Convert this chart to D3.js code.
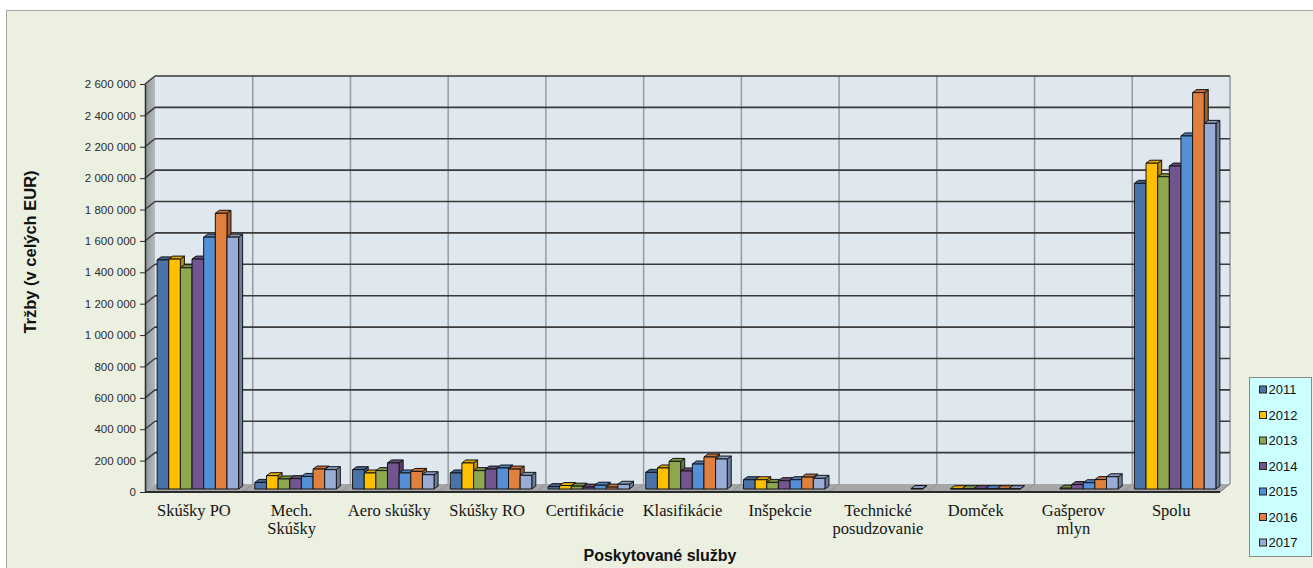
<!DOCTYPE html>
<html>
<head>
<meta charset="utf-8">
<script src="https://cdn.jsdelivr.net/npm/d3@7"></script>
<style>
  body { margin: 0; background: #fff; }
  svg { display: block; }
</style>
</head>
<body>
<div id="chart"></div>
<script>
// categories and values (EUR)
const categories = ['Skúšky PO', 'Mech.|Skúšky', 'Aero skúšky', 'Skúšky RO', 'Certifikácie',
  'Klasifikácie', 'Inšpekcie', 'Technické|posudzovanie', 'Domček', 'Gašperov|mlyn', 'Spolu'];
const years = ['2011', '2012', '2013', '2014', '2015', '2016', '2017'];
const colors = ['#4a74a8', '#ffc000', '#8ea84f', '#72558f', '#5590d6', '#e0803e', '#98acd6'];

const v2011 = [1460000, 42000, 123000, 102000, 15000, 106000, 59000, 0, 0, 0, 1948000];
const v2012 = [1465000, 85000, 102000, 166000, 22000, 134000, 59000, 0, 2000, 0, 2076000];
const v2013 = [1410000, 64000, 117000, 117000, 18000, 176000, 42000, 0, 2000, 5000, 1990000];
const v2014 = [1465000, 66000, 166000, 127000, 12000, 115000, 53000, 0, 2000, 28000, 2058000];
const v2015 = [1605000, 80000, 102000, 134000, 24000, 159000, 59000, 0, 2000, 40000, 2250000];
const v2016 = [1757000, 127000, 112000, 127000, 12000, 204000, 76000, 0, 2000, 60000, 2526000];
const v2017 = [1605000, 123000, 91000, 87000, 30000, 191000, 68000, 3000, 2000, 78000, 2330000];
const series = [v2011, v2012, v2013, v2014, v2015, v2016, v2017];

const yTicks = d3.range(0, 2600001, 200000);

const W = 1313, H = 568;
const pL = 145, pR = 1220, pB = 492, pT = 84;
const wallDx = 10, wallDy = -8;   // depth of the walls
const barDx = 4, barDy = -3;      // depth of a column / offset of the column plane

const svg = d3.select('#chart').append('svg')
  .attr('width', W).attr('height', H);

// chart area
svg.append('rect')
  .attr('x', 6.5).attr('y', 10.5)
  .attr('width', W + 20).attr('height', H + 20)
  .attr('fill', '#ebf0e1').attr('stroke', '#a6a6a6');

const x = d3.scaleBand().domain(categories).range([pL, pR]);
const gap = x.bandwidth() * 0.083;
const xYear = d3.scaleBand().domain(years).range([gap, x.bandwidth() - gap]);
const y = d3.scaleLinear().domain([0, 2600000]).range([pB, pT]);

const loc = d3.formatLocale({ decimal: ',', thousands: ' ', grouping: [3] });
const fmt = loc.format(',d');

// back wall
svg.append('rect')
  .attr('x', pL + wallDx).attr('y', pT + wallDy)
  .attr('width', pR - pL).attr('height', pB - pT)
  .attr('fill', '#dfe8ee');

// vertical gridlines on back wall
svg.append('g').selectAll('line')
  .data(categories.slice(1).concat(['__end']))
  .join('line')
  .attr('x1', d => (d === '__end' ? pR : x(d)) + wallDx)
  .attr('x2', d => (d === '__end' ? pR : x(d)) + wallDx)
  .attr('y1', pT + wallDy).attr('y2', pB + wallDy)
  .attr('stroke', '#9a9a9a').attr('stroke-width', 1.5);

// horizontal gridlines on back wall
svg.append('g').selectAll('line')
  .data(yTicks.slice(1))
  .join('line')
  .attr('x1', pL + wallDx).attr('x2', pR + wallDx)
  .attr('y1', d => y(d) + wallDy).attr('y2', d => y(d) + wallDy)
  .attr('stroke', '#3a3a3a').attr('stroke-width', 1.6);

// side wall
const sideGrad = svg.append('defs').append('linearGradient')
  .attr('id', 'side').attr('x1', 0).attr('x2', 1).attr('y1', 0).attr('y2', 0);
sideGrad.append('stop').attr('offset', 0).attr('stop-color', '#8f969c');
sideGrad.append('stop').attr('offset', 1).attr('stop-color', '#b4babe');
svg.append('path')
  .attr('d', `M${pL},${pB}L${pL + wallDx},${pB + wallDy}L${pL + wallDx},${pT + wallDy}L${pL},${pT}Z`)
  .attr('fill', 'url(#side)');
svg.append('g').selectAll('line')
  .data(yTicks.slice(1))
  .join('line')
  .attr('x1', pL).attr('x2', pL + wallDx)
  .attr('y1', d => y(d)).attr('y2', d => y(d) + wallDy)
  .attr('stroke', '#3a3a3a').attr('stroke-width', 1.4);

// floor
svg.append('path')
  .attr('d', `M${pL},${pB}L${pR},${pB}L${pR + wallDx},${pB + wallDy}L${pL + wallDx},${pB + wallDy}Z`)
  .attr('fill', '#a4a6a8');
svg.append('g').selectAll('line')
  .data(categories.slice(1))
  .join('line')
  .attr('x1', d => x(d)).attr('x2', d => x(d) + wallDx)
  .attr('y1', pB).attr('y2', pB + wallDy)
  .attr('stroke', '#8e9092').attr('stroke-width', 1);
svg.append('line')
  .attr('x1', pR).attr('x2', pR + wallDx)
  .attr('y1', pB).attr('y2', pB + wallDy)
  .attr('stroke', '#7a7a7a');

// columns
const bars = [];
categories.forEach((c, ci) => {
  years.forEach((yr, si) => {
    bars.push({ c, yr, si, v: series[si][ci] });
  });
});

const bw = xYear.bandwidth();
const g = svg.append('g').attr('stroke', '#151515').attr('stroke-width', 1).attr('stroke-linejoin', 'round');
bars.filter(d => d.v > 0).forEach(d => {
  const x0 = x(d.c) + xYear(d.yr) + barDx;
  const x1 = x0 + bw;
  const yb = y(0) + barDy;
  const yt = y(d.v) + barDy;
  const base = d3.color(colors[d.si]);
  const b = g.append('g');
  b.append('path')
    .attr('d', `M${x1},${yb}L${x1 + barDx},${yb + barDy}L${x1 + barDx},${yt + barDy}L${x1},${yt}Z`)
    .attr('fill', base.darker(0.9));
  b.append('path')
    .attr('d', `M${x0},${yt}L${x0 + barDx},${yt + barDy}L${x1 + barDx},${yt + barDy}L${x1},${yt}Z`)
    .attr('fill', base.darker(0.35));
  b.append('rect')
    .attr('x', x0).attr('y', yt)
    .attr('width', bw).attr('height', Math.max(0, yb - yt))
    .attr('fill', base);
});

// floor front edge
svg.append('line')
  .attr('x1', pL).attr('x2', pR)
  .attr('y1', pB).attr('y2', pB)
  .attr('stroke', '#2a2a2a').attr('stroke-width', 2);

// y axis
const yAxis = svg.append('g')
  .attr('transform', `translate(${pL},0)`)
  .call(d3.axisLeft(y).tickValues(yTicks).tickFormat(fmt).tickSize(5).tickSizeOuter(0).tickPadding(4));
yAxis.select('.domain').attr('stroke', '#2a2a2a').attr('stroke-width', 1.5);
yAxis.selectAll('.tick line').attr('stroke', '#2a2a2a');
yAxis.selectAll('.tick text')
  .attr('font-family', 'Liberation Sans, Arial, sans-serif')
  .attr('font-size', 11.5).attr('fill', '#2b2b2b');

// x axis labels
const xAxis = svg.append('g')
  .attr('transform', `translate(0,${pB})`)
  .call(d3.axisBottom(x).tickSize(0).tickPadding(0));
xAxis.select('.domain').remove();
xAxis.selectAll('.tick text')
  .attr('font-family', 'Liberation Serif, Times New Roman, serif')
  .attr('font-size', 16.5).attr('fill', '#141414')
  .attr('dy', null).attr('y', 0)
  .each(function (d) {
    const t = d3.select(this).text(null);
    d.split('|').forEach((line, i) => {
      t.append('tspan').attr('x', 0).attr('y', 24 + i * 18).text(line);
    });
  });

// axis titles
svg.append('text')
  .attr('transform', 'translate(36,252) rotate(-90)')
  .attr('text-anchor', 'middle')
  .attr('font-family', 'Liberation Sans, Arial, sans-serif')
  .attr('font-weight', 'bold').attr('font-size', 16.5).attr('fill', '#111')
  .text('Tržby (v celých EUR)');

svg.append('text')
  .attr('x', 660).attr('y', 561)
  .attr('text-anchor', 'middle')
  .attr('font-family', 'Liberation Sans, Arial, sans-serif')
  .attr('font-weight', 'bold').attr('font-size', 16).attr('fill', '#111')
  .text('Poskytované služby');

// legend
const legend = svg.append('g').attr('transform', 'translate(1249.5,377.5)');
legend.append('rect')
  .attr('width', 62).attr('height', 179)
  .attr('fill', '#ccffff').attr('stroke', '#8a8a8a');
const item = legend.selectAll('g.item')
  .data(years)
  .join('g').attr('class', 'item')
  .attr('transform', (d, i) => `translate(0,${12 + i * 25.5})`);
item.append('rect')
  .attr('x', 10).attr('y', -3.5).attr('width', 7).attr('height', 7)
  .attr('fill', (d, i) => colors[i]).attr('stroke', '#222');
item.append('text')
  .attr('x', 19).attr('y', 0).attr('dy', '0.36em')
  .attr('font-family', 'Liberation Sans, Arial, sans-serif')
  .attr('font-size', 13).attr('fill', '#111')
  .text(d => d);
</script>
</body>
</html>
